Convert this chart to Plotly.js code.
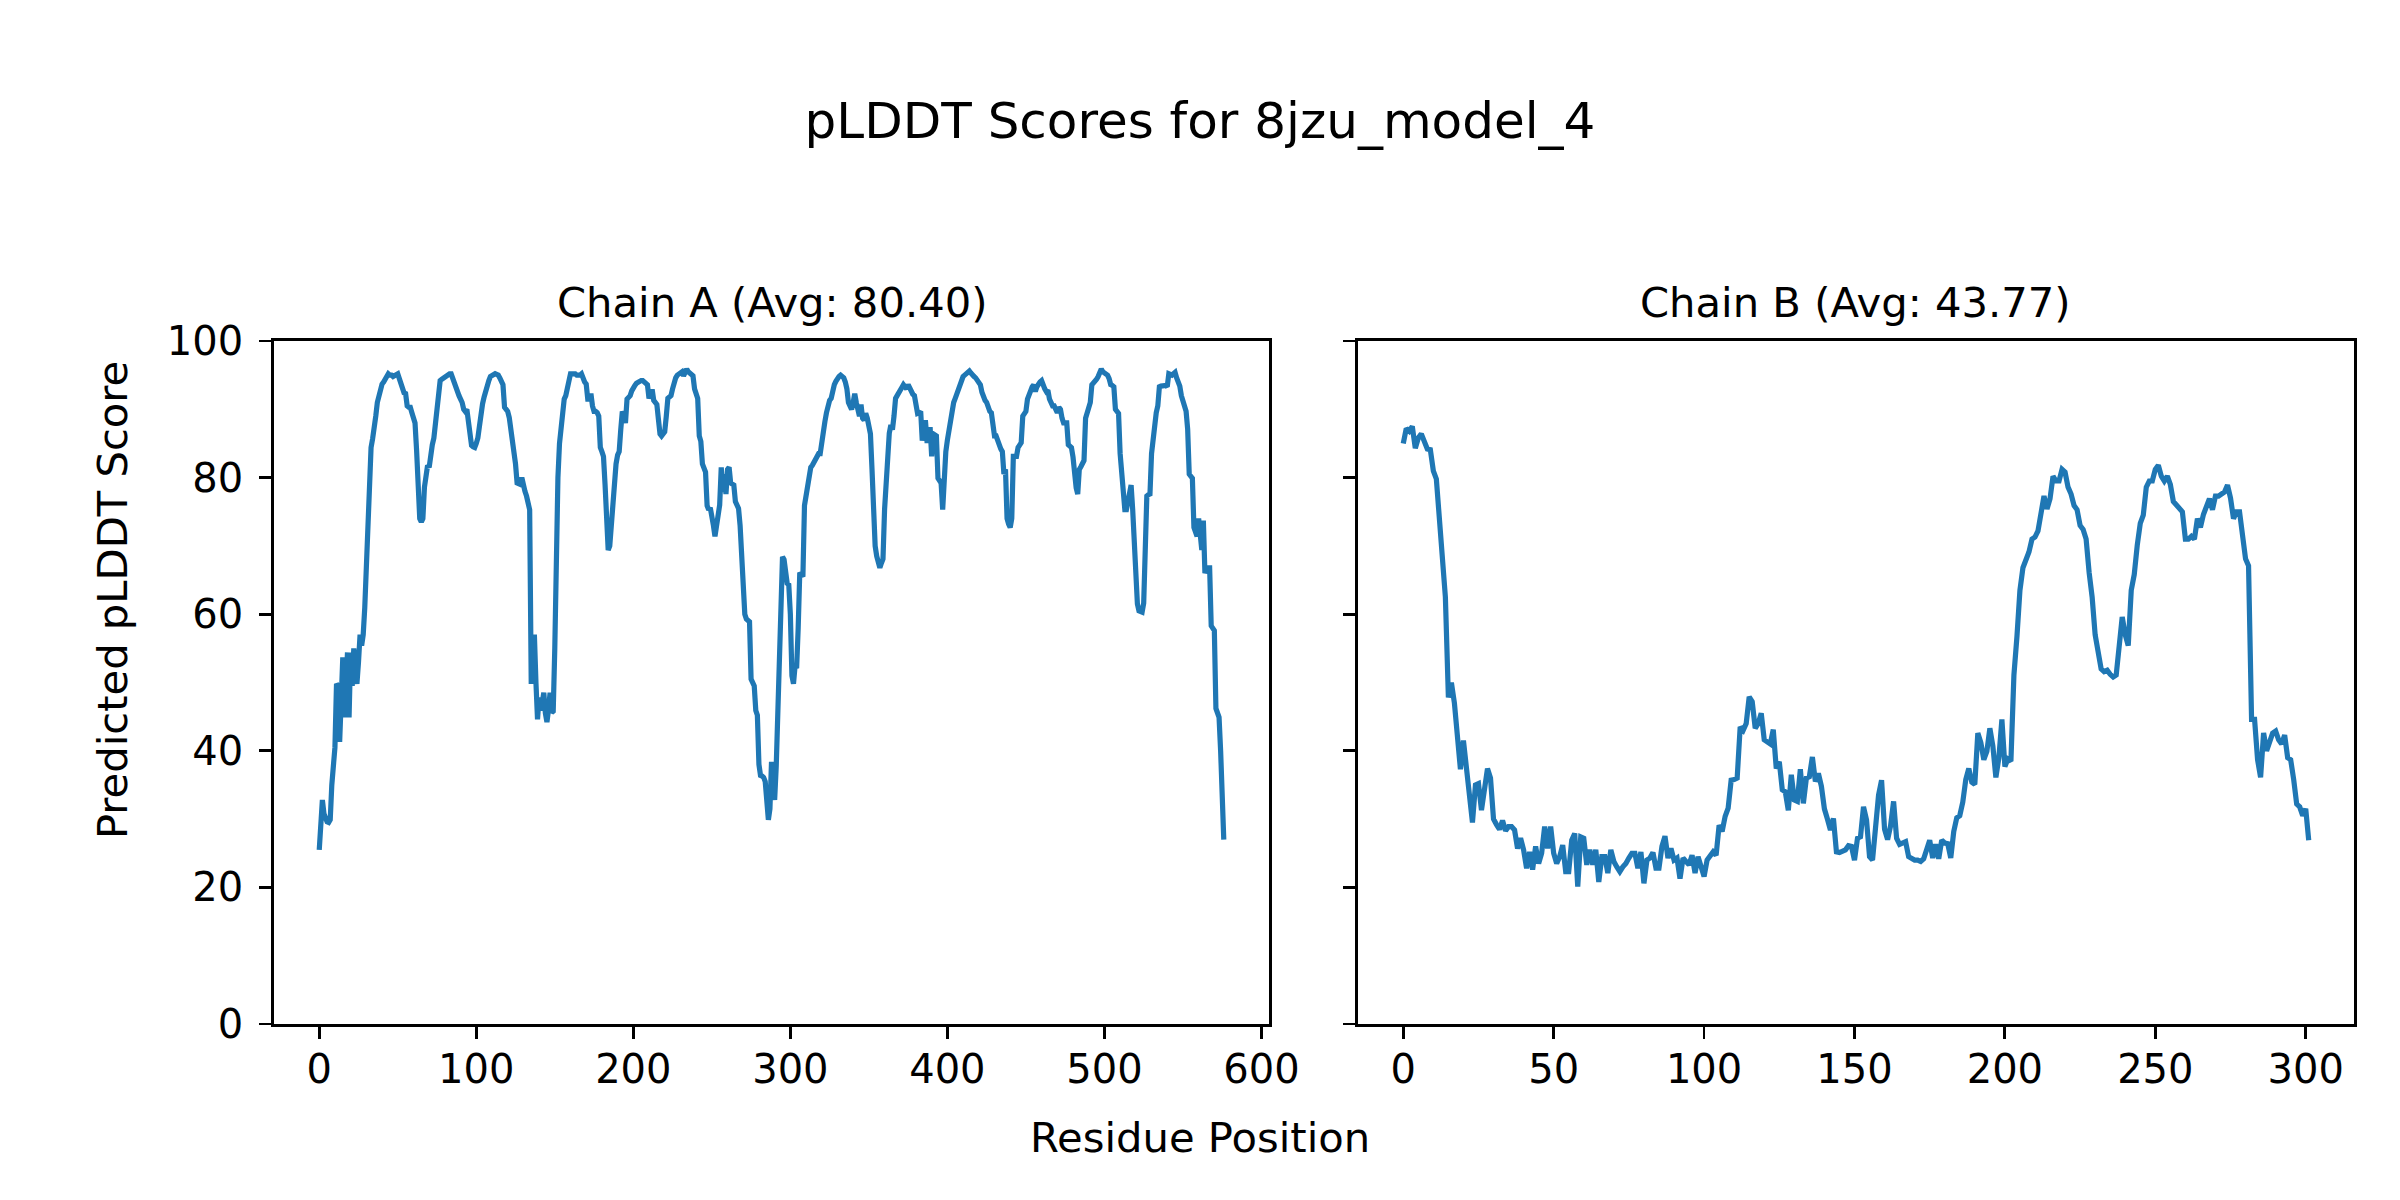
<!DOCTYPE html>
<html>
<head>
<meta charset="utf-8">
<script src="https://cdn.plot.ly/plotly-3.0.1.min.js"></script>
<style>html,body{margin:0;padding:0;background:#fff;}#chart{width:2400px;height:1200px;}</style>
</head>
<body>
<div id="chart"></div>
<script>
// pLDDT values per residue
const chainA = [
25.5,31,32.8,30.8,30,29.6,29.5,29.9,35,39,
40.5,49.8,49.5,41.3,47,53.7,44.9,49,54.4,44.9,
54.4,49.5,55,52,49.8,53,57,55.4,57,61,
68,73,77,84.4,85.7,87,89,91,92,92.8,
93.7,94,94.3,94.8,95.2,95,95,94.8,95,95.2,
95.2,94.5,93.6,92.6,92.4,92.3,90.5,90.3,90.3,89.5,
88.7,88,84,78,74,73.5,74,78.6,80.5,81.8,
81.5,83.5,84.8,85.8,88,91.5,93.5,94.2,94.4,94.6,
94.6,94.8,95,95.2,95.2,94.5,93.6,93,92.5,92,
91.5,91,90,89.7,90,88,85.1,84.7,84.5,84.4,
85,85.8,87.5,89.7,90.8,91.8,92.9,93.5,94.2,94.8,
95,95.2,95.2,95.1,95,94.6,94,93.6,90.3,90,
89.7,88.8,87.2,85.5,83.5,82,79.2,79.1,79,80,
78.6,78,77.3,76.3,75.3,49.8,55,57,50,44.6,
47.8,45.9,47,48.5,45.5,44.2,46,48.5,45.6,45.8,
55,70,80,85,88,90,91.5,92,93,94.5,
95.2,95.2,95.2,95.2,95,94.9,95,95.2,94.4,94,
93.7,91.5,91.5,92.3,90.5,89.7,89.7,89.5,89,84.4,
83.8,83.1,79,72,69.4,70,73.5,77,79.5,82,
83.3,83.8,87,89.7,89,88,91.5,91.8,92,92.7,
93.3,93.5,93.8,94,94.1,94.2,94.2,94,93.8,93.6,
91.6,92.3,92.9,91.3,91,90.7,88.5,86.4,86.1,86.3,
86.7,89,91.6,91.8,92,93,94.2,94.6,95,95.2,
95.3,95.5,94.9,95.4,95.9,95.5,95.2,95.1,94.9,93,
92,91.6,86.1,85.3,82,81.1,80.8,75.9,75.3,75.6,
74.6,73,71.4,72.7,74.5,76,81.5,77.9,80.5,77.6,
81.2,81.5,79.2,79,78.9,76.5,75.8,75.5,73,69.4,
63,60,59.3,59.1,58.9,50.5,50,49.5,45.9,45.2,
38,36.4,36.3,36.1,35.5,33,29.9,31.5,38.4,35,
32.8,37.7,45.9,51,58,68.4,68,65.5,64.5,64.3,
60,51,49.8,52.4,52.1,58,66.1,65.8,65.5,75.9,
77.5,78.6,80,81.5,81.8,82.2,82.8,83.2,83.5,83.5,
85.5,87.7,88.2,89.5,91,91.3,91.6,92.8,93.6,94.1,
94.6,94.8,95,94.8,94.6,94,93,91,90.2,90,
91,92.3,91,89.8,89,90.7,88.7,88.4,89.4,88.7,
87.5,86.4,81.2,74,70,68.5,67.5,66.8,67.5,68.1,
75.3,80,84,86.5,87.7,87,89,91.6,92,92.3,
92.9,93.2,93.6,93.3,93,93.6,93,92.3,92.2,92,
90.7,89.4,89.5,89.7,85.4,87,88.4,85.4,85.4,87.4,
83.1,86.4,86.2,86.1,79.9,79.5,79.2,75.3,80.5,83.8,
85.5,87,88.8,89.7,91,91.6,92.3,92.9,93.8,94.6,
94.8,95,95.2,95.4,95.6,95.3,94.9,94.8,94.6,94.2,
93.8,93.6,92.5,91.6,91.3,91,90,89.7,89.5,87.5,
86.1,86.1,85.3,84.8,84.2,83.8,80.5,81.2,74,73.2,
72.7,74,83.1,83.1,83.1,84.4,84.7,85.1,89,89.5,
89.7,91.5,92.3,92.9,93.3,93.6,92.6,93.3,93.9,94,
94.2,93.3,93,92.6,92.8,91.5,91,90.5,90.5,89.7,
89.5,90.3,90,88.7,88,88,88,84.8,84.6,84.4,
83,79.9,78.5,77.6,81.2,81.6,82,82.5,88.7,89.7,
90.3,91,93.6,93.8,94.2,94.4,94.8,95.2,95.9,95.5,
95.3,95.2,95,94.5,93.6,93.5,93.3,90,89.7,89.4,
83.5,80.5,79,75.3,75.3,76.5,78.6,78.9,75.3,69.4,
64.2,61.5,60.5,60.3,60.3,61.6,74,77.3,77.5,77.6,
83.5,85.8,88.4,89.5,90.5,93.3,93.4,93.5,93.6,93.5,
93.3,95.2,95.1,95,95.2,95.4,94.6,93.9,93.4,92,
91,90.5,89.7,87.1,80.5,80.2,79.9,72.7,72,71.4,
74,71.4,69.4,73.7,66,66.8,66.8,66.8,58.3,58,
57.6,46.2,45.3,44.9,40,35.4,27
];

const chainB = [
85,87.2,86.8,87.5,84.3,85.8,86.4,85.3,84.2,84.1,
81,79.8,74.5,67,62.5,47.8,50,47,42.5,37.3,
41.5,37.5,33,29.5,35,35.2,31.3,34.5,37.4,36,
30,29.2,28.5,29.8,28.3,28.9,28.9,28.4,25.7,27.2,
25.5,22.8,25.2,22.6,26,23.5,25,28.9,25.7,28.9,
25,23.5,24.5,26.2,22.3,22.3,26.9,27.9,20.1,27.4,
27.2,23.3,25.5,23.3,25.5,20.8,24.5,24.5,22.1,25.5,
23.8,23,22.3,23,23.5,24.3,25,25,22.8,25.2,
20.6,24,24.3,25.1,22.8,22.8,26,27.5,24.3,25.7,
24,24.3,21.3,24.3,23.7,23.3,24.7,22.1,24.5,23,
21.6,24,24.7,25.2,24.7,29.1,28.2,30.4,31.6,35.7,
35.8,36,43.5,43,44,47.9,47.2,43.3,44,45.5,
41.6,41.3,41,43.1,37.4,38.4,34.3,34,31.3,36.5,
32.8,32.6,37.3,32.3,36,36.2,39.1,35.5,36.7,34.8,
31.5,30,28.4,30.1,25.2,25.1,25.3,25.5,26.1,26,
24,27.2,27.4,31.8,29.9,24.5,24,28.5,33.5,35.7,
28.5,27,29,32.6,27.2,26.3,26.6,26.7,24.5,24.2,
24,24,23.8,24.2,25.5,26.9,24.3,26.3,24.2,26.9,
26.5,26.4,24.3,28.2,30.2,30.5,32.5,35.8,37.4,35.4,
35.1,42.6,41.2,38.7,39.9,43.3,40.7,36.1,39,44.6,
37.7,38.8,38.5,51.1,56.7,63.5,66.8,68.1,69.1,71,
71.3,72.2,74.3,77.3,75.4,76.9,80.2,79.5,79.5,81.2,
80.8,78.6,77.6,75.9,75.3,73,72.4,71,66.1,62.5,
57,54,52,51.6,51.8,51.2,50.8,51.1,55.7,59.6,
57,55.4,63.5,65.8,70.1,73.3,74.5,78.6,79.5,79.5,
81.2,81.8,80.2,79.5,80.2,79,76.5,75.9,75.6,75,
71,71,71.4,71,74,72.7,74.6,75.6,76.9,75.3,
77.3,77.3,77.5,77.9,78.9,77,74,75,75,71.4,
68.1,67.1,44.6,44.6,38.7,36.1,42.6,40,41.6,42.6,
42.9,41.6,41,42.3,39,38.7,35.8,32.2,31.8,30.5,
31.5,26.9
];

const chainTitles = ["Chain A (Avg: 80.40)", "Chain B (Avg: 43.77)"];
const figTitle = "pLDDT Scores for 8jzu_model_4";
const xLabel = "Residue Position";
const yLabel = "Predicted pLDDT Score";
const yTicks = [0, 20, 40, 60, 80, 100];
const xTicksA = [0, 100, 200, 300, 400, 500, 600];
const xTicksB = [0, 50, 100, 150, 200, 250, 300];

const posA = chainA.map((_, i) => i);
const posB = chainB.map((_, i) => i);

const BLUE = '#1f77b4';
const FONT = 'DejaVu Sans, Liberation Sans, sans-serif';
const TICK = 40;

const traces = [
  {x: posA, y: chainA, type: 'scatter', mode: 'lines', line: {color: BLUE, width: 5.2}, xaxis: 'x', yaxis: 'y', showlegend: false, hoverinfo: 'skip'},
  {x: posB, y: chainB, type: 'scatter', mode: 'lines', line: {color: BLUE, width: 5.2}, xaxis: 'x2', yaxis: 'y2', showlegend: false, hoverinfo: 'skip'}
];

function axisBase(standoff) {
  return {
    showline: true, mirror: true, linecolor: '#000', linewidth: 2.8,
    ticks: 'outside', ticklen: 12, tickwidth: 2.8, tickcolor: '#000',
    showgrid: false, zeroline: false,
    tickfont: {family: FONT, size: TICK, color: '#000'},
    ticklabelstandoff: standoff
  };
}

const nA = chainA.length - 1, nB = chainB.length - 1;
const padA = nA * 0.05, padB = nB * 0.05;

const yDom = [0.14667, 0.71583];
const xDomA = [0.11417, 0.52875];
const xDomB = [0.56583, 0.98083];

const layout = {
  width: 2400, height: 1200,
  margin: {l: 0, r: 0, t: 0, b: 0},
  paper_bgcolor: '#fff', plot_bgcolor: '#fff',
  font: {family: FONT, color: '#000', size: TICK},
  title: {text: figTitle, font: {family: FONT, size: 50, color: '#000'}, x: 0.5, xanchor: 'center', y: 0.9, yanchor: 'middle'},
  xaxis: Object.assign(axisBase(-4), {domain: xDomA, range: [-padA, nA + padA], tickvals: xTicksA, anchor: 'y'}),
  yaxis: Object.assign(axisBase(8), {domain: yDom, range: [0, 100], tickvals: yTicks, anchor: 'x'}),
  xaxis2: Object.assign(axisBase(-4), {domain: xDomB, range: [-padB, nB + padB], tickvals: xTicksB, anchor: 'y2'}),
  yaxis2: Object.assign(axisBase(8), {domain: yDom, range: [0, 100], tickvals: yTicks, showticklabels: false, anchor: 'x2'}),
  annotations: [
    {text: chainTitles[0], xref: 'paper', yref: 'paper', x: (xDomA[0] + xDomA[1]) / 2, y: 0.7475, xanchor: 'center', yanchor: 'middle', showarrow: false, font: {family: FONT, size: 41.7, color: '#000'}},
    {text: chainTitles[1], xref: 'paper', yref: 'paper', x: (xDomB[0] + xDomB[1]) / 2, y: 0.7475, xanchor: 'center', yanchor: 'middle', showarrow: false, font: {family: FONT, size: 41.7, color: '#000'}},
    {text: xLabel, xref: 'paper', yref: 'paper', x: 0.5, y: 0.0525, xanchor: 'center', yanchor: 'middle', showarrow: false, font: {family: FONT, size: 41.7, color: '#000'}},
    {text: yLabel, xref: 'paper', yref: 'paper', x: 0.0467, y: 0.5, xanchor: 'center', yanchor: 'middle', textangle: -90, showarrow: false, font: {family: FONT, size: 41.7, color: '#000'}}
  ]
};

Plotly.newPlot('chart', traces, layout, {staticPlot: true, displayModeBar: false});
</script>
</body>
</html>
